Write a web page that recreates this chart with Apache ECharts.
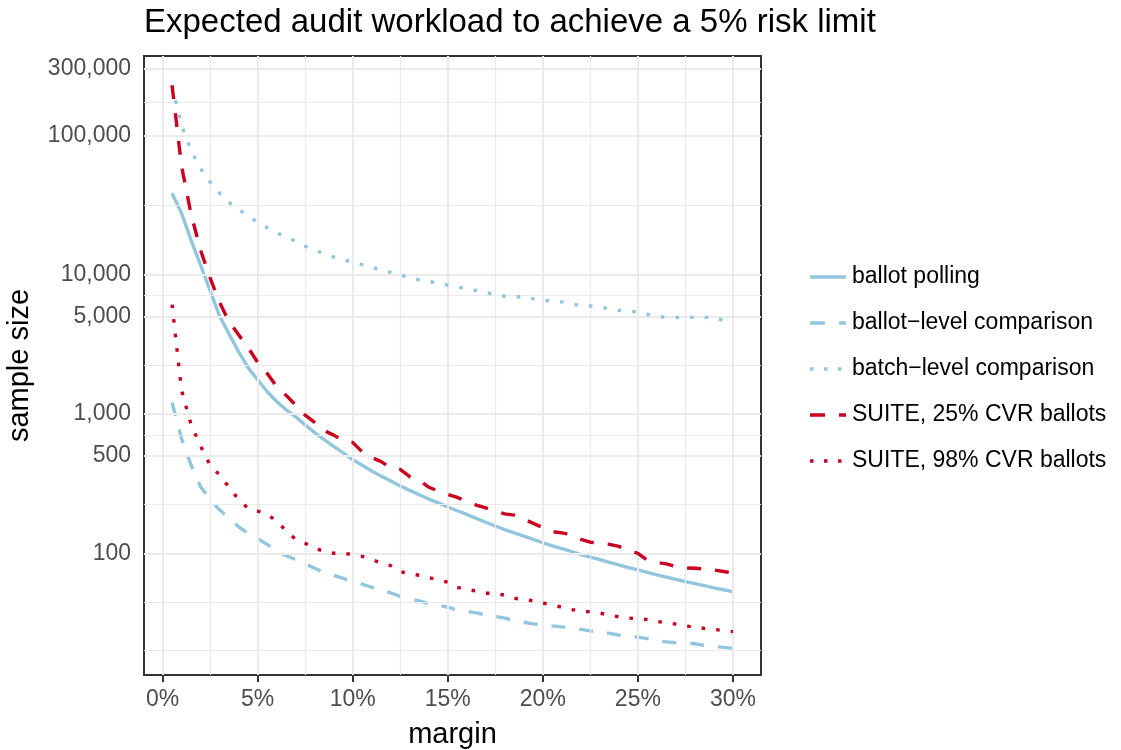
<!DOCTYPE html>
<html>
<head>
<meta charset="utf-8">
<script src="https://cdn.jsdelivr.net/npm/echarts@6/dist/echarts.min.js"></script>
<style>
html,body{margin:0;padding:0;background:#fff;}
#chart{width:1121px;height:750px;}
</style>
</head>
<body>
<div id="chart"></div>
<script>
// ---- data (margin in %, sample sizes) ----
const margins = [0.5,1,1.5,2,2.5,3,3.5,4,4.5,5,5.5,6,6.5,7,7.5,8,8.5,9,9.5,10,
  10.5,11,11.5,12,12.5,13,13.5,14,14.5,15,15.5,16,16.5,17,17.5,18,18.5,19,19.5,20,
  20.5,21,21.5,22,22.5,23,23.5,24,24.5,25,25.5,26,26.5,27,27.5,28,28.5,29,29.5,30];

const ballotPolling = [38400,27600,17700,11700,7700,5050,3750,2800,2150,1760,
  1450,1230,1070,955,835,735,655,585,525,470,
  428,390,358,330,304,283,263,245,230,215,
  202,190,178,167,157,148,140,133,126,119,
  113,108,103,98,94,90,86,82.5,79,76,
  73,70,67.5,65,62.5,60.5,58.5,56.5,54.7,53];

const ballotLevel = [1210,665,430,300,245,205,178,155,139,127,
  116,104,96,90,84,78,73,69.5,66,62.5,
  60,57,55,52,49,47,45.5,43.5,42.3,41,
  39.2,38.2,37.3,36.1,35.2,34.2,32.9,32,31.1,30.7,
  30.1,29.6,29,28.4,27.7,27.2,26.6,25.9,25.6,25,
  24.4,23.6,23.1,22.8,22.7,22.4,21.8,21.4,21.1,20.8];

const batchLevel = [225000,118000,78000,57800,46200,38500,33000,29500,26300,23900,
  21700,20000,18600,17400,16000,15000,14200,13400,12800,12300,
  11800,11300,10850,10400,9950,9520,9170,8950,8700,8420,
  8150,7940,7700,7450,7220,7000,6950,6950,6700,6550,
  6480,6380,6200,5970,5960,5870,5680,5550,5440,5410,
  5200,5010,4950,4940,4940,4940,4940,4930,4700,4550];

const suite25 = [229000,60000,27300,15000,9500,6320,4600,3700,3000,2350,
  1960,1575,1360,1160,980,870,760,705,645,625,
  535,488,455,410,400,355,335,298,280,265,
  252,235,222,212,200,192,188,176,164,153,
  143,140,136,126,120,118,116,112,105,100,
  89,86,84,80,78.5,78,77,76,74,72];

const suite98 = [6100,1480,840,590,430,365,298,243,210,201,
  191,170,145,126,118,109,103,100,100,98,
  95,90,85,81.5,74,71,69.5,67,64.5,62,
  57,55,53.5,51.6,51.6,50,47.5,46.7,45.5,44,
  42.5,41,39.4,38.6,37.9,37.2,36,35,34.3,33.9,
  33.4,32.4,31.7,31,30.1,29.5,28.9,28.4,27.9,27.4];

const seriesNames = ['ballot polling','ballot\u2212level comparison','batch\u2212level comparison',
  'SUITE, 25% CVR ballots','SUITE, 98% CVR ballots'];

// axis breaks
const xBreaks = [0,5,10,15,20,25,30];
const xMinorBreaks = [2.5,7.5,12.5,17.5,22.5,27.5];
const yBreaks = [100,500,1000,5000,10000,100000,300000];
const yMinorBreaks = [20,44.72,223.6,707.1,2236,7071,31623,173205];
const xLimits = [-0.975,31.475];
const yLimits = [13.37,371500];

// ---- chart ----
const FONT = 'Liberation Sans, Arial, Helvetica, sans-serif';
const BLUE = '#92C5DE', RED = '#CA0020';
const chart = echarts.init(document.getElementById('chart'), null, {renderer:'canvas'});

function fmtNum(v){ return String(v).replace(/\B(?=(\d{3})+(?!\d))/g, ','); }
function pairs(arr){ return margins.map((m,i)=>[m, arr[i]]); }

const ICON_SOLID = 'path://M0,0H36V3.4H0Z';
const ICON_DASH = 'path://M0,0H15V3.4H0Z M29,0H36V3.4H29Z';
const ICON_DOT = 'path://M0,0H3.5V3.4H0Z M14,0H17.5V3.4H14Z M28,0H31.5V3.4H28Z M36,3.4Z';

const styles = [
  {color: BLUE, type: 'solid', icon: ICON_SOLID},
  {color: BLUE, type: [14,14], icon: ICON_DASH},
  {color: BLUE, type: [3.6,11], icon: ICON_DOT},
  {color: RED, type: [14,14], icon: ICON_DASH},
  {color: RED, type: [3.6,11], icon: ICON_DOT}
];
const dataSets = [ballotPolling, ballotLevel, batchLevel, suite25, suite98];

const gridLines = [];
yBreaks.forEach(v=>gridLines.push({yAxis:v, lineStyle:{color:'#EBEBEB', width:2, type:'solid'}}));
yMinorBreaks.forEach(v=>gridLines.push({yAxis:v, lineStyle:{color:'#EBEBEB', width:1.2, type:'solid'}}));
xBreaks.forEach(v=>gridLines.push({xAxis:v, lineStyle:{color:'#EBEBEB', width:2, type:'solid'}}));
xMinorBreaks.forEach(v=>gridLines.push({xAxis:v, lineStyle:{color:'#EBEBEB', width:1.2, type:'solid'}}));

const series = [{
  name: '_grid', type: 'line', data: [], z: 1, silent: true,
  markLine: {silent: true, symbol: ['none','none'], label: {show:false}, animation: false,
    emphasis: {disabled: true}, data: gridLines}
}];
dataSets.forEach((arr, i) => {
  series.push({
    name: seriesNames[i], type: 'line', data: pairs(arr), z: 3 + i,
    symbol: 'none', showSymbol: false, smooth: false, clip: true,
    lineStyle: {color: styles[i].color, width: 3.4, type: styles[i].type, cap: 'butt'},
    itemStyle: {color: styles[i].color},
    emphasis: {disabled: true}
  });
});

chart.setOption({
  animation: false,
  backgroundColor: '#fff',
  textStyle: {fontFamily: FONT},
  title: {
    text: 'Expected audit workload to achieve a 5% risk limit',
    left: 144, top: 6, padding: 0,
    textStyle: {fontFamily: FONT, fontSize: 33, fontWeight: 'normal', color: '#000'}
  },
  legend: {
    orient: 'vertical', left: 810, top: 265.5, padding: 0,
    itemWidth: 36, itemHeight: 3.4, itemGap: 23,
    data: seriesNames.map((n, i) => ({name: n, icon: styles[i].icon,
      itemStyle: {color: styles[i].color, borderWidth: 0}})),
    textStyle: {fontFamily: FONT, fontSize: 23, color: '#000', padding: [0,0,0,1]},
    selectedMode: false
  },
  grid: {left: 144, top: 56, width: 617, height: 619, show: true,
    borderColor: '#333333', borderWidth: 2, backgroundColor: 'transparent',
    containLabel: false, outerBoundsMode: 'none'},
  xAxis: {
    type: 'value', min: xLimits[0], max: xLimits[1],
    name: 'margin', nameLocation: 'middle', nameGap: 45,
    nameTextStyle: {fontFamily: FONT, fontSize: 29, color: '#000'},
    axisLine: {show: true, lineStyle: {color: '#333333', width: 2}},
    axisTick: {show: true, customValues: xBreaks, length: 7, lineStyle: {color: '#333333', width: 2}},
    axisLabel: {customValues: xBreaks, formatter: v => v + '%', color: '#4D4D4D',
      fontFamily: FONT, fontSize: 23, margin: 13},
    splitLine: {show: false}, minorSplitLine: {show: false}
  },
  yAxis: {
    type: 'log', logBase: 10, min: yLimits[0], max: yLimits[1],
    name: 'sample size', nameLocation: 'middle', nameGap: 110,
    nameTextStyle: {fontFamily: FONT, fontSize: 29, color: '#000'},
    axisLine: {show: true, lineStyle: {color: '#333333', width: 2}},
    axisTick: {show: true, customValues: yBreaks, length: 7, lineStyle: {color: '#333333', width: 2}},
    axisLabel: {customValues: yBreaks, formatter: v => fmtNum(v), color: '#4D4D4D',
      fontFamily: FONT, fontSize: 23, margin: 13},
    splitLine: {show: false}, minorSplitLine: {show: false}
  },
  series: series
});
</script>
</body>
</html>
